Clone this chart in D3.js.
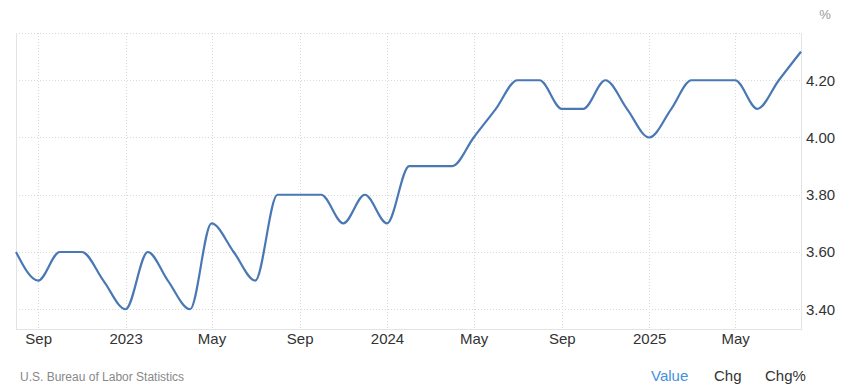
<!DOCTYPE html>
<html>
<head>
<meta charset="utf-8">
<script src="https://cdn.jsdelivr.net/npm/d3@7"></script>
<style>
  html, body { margin: 0; padding: 0; background: #fff; }
  svg { display: block; font-family: "Liberation Sans", Arial, sans-serif; }
</style>
</head>
<body>
<svg id="chart" width="843" height="387"></svg>
<script>
const months = [
  "2022-08","2022-09","2022-10","2022-11","2022-12",
  "2023-01","2023-02","2023-03","2023-04","2023-05","2023-06","2023-07","2023-08","2023-09","2023-10","2023-11","2023-12",
  "2024-01","2024-02","2024-03","2024-04","2024-05","2024-06","2024-07","2024-08","2024-09","2024-10","2024-11","2024-12",
  "2025-01","2025-02","2025-03","2025-04","2025-05","2025-06","2025-07","2025-08"
];
const rates = [
  3.6,3.5,3.6,3.6,3.5,
  3.4,3.6,3.5,3.4,3.7,3.6,3.5,3.8,3.8,3.8,3.7,3.8,
  3.7,3.9,3.9,3.9,4.0,4.1,4.2,4.2,4.1,4.1,4.2,4.1,
  4.0,4.1,4.2,4.2,4.2,4.1,4.2,4.3
];
const yTicks = [3.4, 3.6, 3.8, 4.0, 4.2];
const xTickDates = ["2022-09","2023-01","2023-05","2023-09","2024-01","2024-05","2024-09","2025-01","2025-05"];
const xTickLabels = ["Sep","2023","May","Sep","2024","May","Sep","2025","May"];
const legendItems = ["Value","Chg","Chg%"];
const sourceText = "U.S. Bureau of Labor Statistics";
const unitLabel = "%";

const parse = d3.timeParse("%Y-%m");
const data = months.map((m, i) => ({ date: parse(m), value: rates[i] }));

const svg = d3.select("#chart");
const pLeft = 16, pRight = 801, pTop = 33, pBottom = 329;

const x = d3.scaleTime()
  .domain(d3.extent(data, d => d.date))
  .range([pLeft, pRight]);
const y = d3.scaleLinear()
  .domain([3.331, 4.365])
  .range([pBottom, pTop]);

// horizontal grid
svg.append("g").selectAll("line")
  .data(yTicks.concat([y.invert(pTop)]))
  .join("line")
  .attr("x1", pLeft).attr("x2", pRight)
  .attr("y1", d => Math.round(y(d)) + 0.5).attr("y2", d => Math.round(y(d)) + 0.5)
  .attr("stroke", "#d9d9d9").attr("stroke-dasharray", "1,2");

// vertical grid
svg.append("g").selectAll("line")
  .data(xTickDates.map(parse))
  .join("line")
  .attr("x1", d => Math.round(x(d)) + 0.5).attr("x2", d => Math.round(x(d)) + 0.5)
  .attr("y1", pTop).attr("y2", pBottom)
  .attr("stroke", "#d9d9d9").attr("stroke-dasharray", "1,2");

// borders
svg.append("line").attr("x1", pLeft + 0.5).attr("x2", pLeft + 0.5).attr("y1", pTop).attr("y2", pBottom + 0.5)
  .attr("stroke", "#e3e3e3");
svg.append("line").attr("x1", pRight + 0.5).attr("x2", pRight + 0.5).attr("y1", pTop).attr("y2", pBottom + 0.5)
  .attr("stroke", "#e3e3e3");
svg.append("line").attr("x1", pLeft).attr("x2", pRight + 1).attr("y1", pBottom + 0.5).attr("y2", pBottom + 0.5)
  .attr("stroke", "#e3e3e3");

// y axis (right)
const yAxis = d3.axisRight(y).tickValues(yTicks).tickFormat(d3.format(".2f")).tickSize(0).tickPadding(5);
const gy = svg.append("g").attr("transform", `translate(${pRight},0)`).call(yAxis);
gy.select(".domain").remove();
gy.selectAll("text").attr("font-size", 15).attr("fill", "#333")
  .attr("font-family", "Liberation Sans, Arial, sans-serif");

// x axis
const xAxis = d3.axisBottom(x).tickValues(xTickDates.map(parse))
  .tickFormat((d, i) => xTickLabels[i]).tickSize(0).tickPadding(4);
const gx = svg.append("g").attr("transform", `translate(0,${pBottom})`).call(xAxis);
gx.select(".domain").remove();
gx.selectAll("text").attr("font-size", 15).attr("fill", "#333")
  .attr("font-family", "Liberation Sans, Arial, sans-serif");

// line
const line = d3.line()
  .x(d => x(d.date)).y(d => y(d.value))
  .curve(d3.curveMonotoneX);
svg.append("path").datum(data)
  .attr("d", line)
  .attr("fill", "none")
  .attr("stroke", "#4a78b5")
  .attr("stroke-width", 2.2)
  .attr("stroke-linejoin", "round");

// unit label
svg.append("text").attr("x", 825).attr("y", 19).attr("text-anchor", "middle")
  .attr("font-size", 13).attr("fill", "#999").text(unitLabel);

// source
svg.append("text").attr("x", 20).attr("y", 381)
  .attr("font-size", 12).attr("fill", "#888").text(sourceText);

// legend-like buttons
const legX = [651, 714, 765];
svg.append("g").selectAll("text").data(legendItems).join("text")
  .attr("x", (d, i) => legX[i]).attr("y", 381)
  .attr("font-size", 15)
  .attr("fill", (d, i) => i === 0 ? "#3f92dc" : "#333")
  .text(d => d);
</script>
</body>
</html>
